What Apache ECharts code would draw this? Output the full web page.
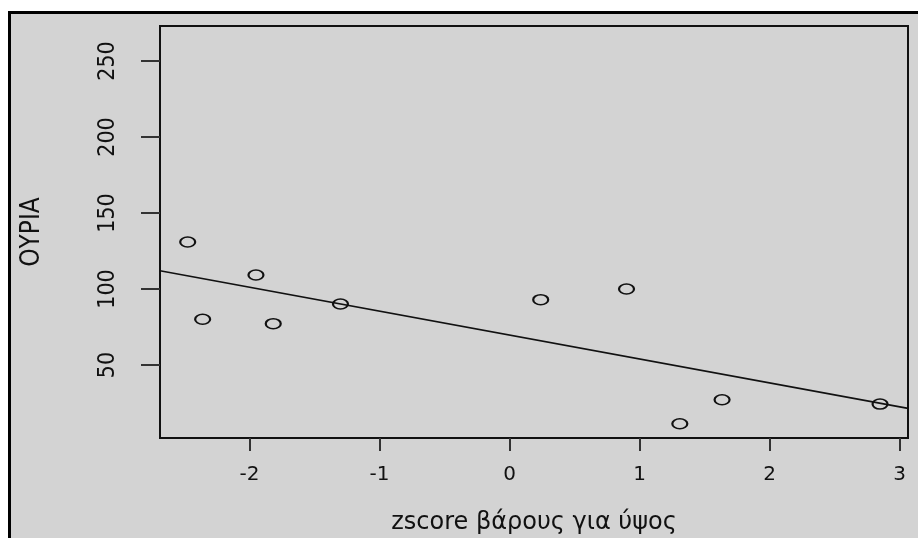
<!DOCTYPE html>
<html>
<head>
<meta charset="utf-8">
<script src="https://cdn.jsdelivr.net/npm/echarts@6/dist/echarts.min.js"></script>
<style>
  html, body { margin: 0; padding: 0; background: #ffffff; }
  #frame { position: absolute; left: 8px; top: 11px; width: 910px; height: 527px;
           background: #d3d3d3; border-left: 3px solid #000; border-top: 3px solid #000; box-sizing: border-box; }
  #chart { position: absolute; left: 0; top: 0; width: 918px; height: 538px; }
</style>
</head>
<body>
<div id="frame"></div>
<div id="chart"></div>
<script>
// Data
const zscoreX = [-2.475, -2.36, -1.95, -1.817, -1.30, 0.24, 0.90, 1.31, 1.635, 2.85];
const ouriaY  = [130.9, 80.1, 109.2, 77.2, 90.1, 93.0, 100.0, 11.4, 27.2, 24.3];
// Fitted line endpoints (read at the plot edges)
const fitX = [-2.688, 3.065];
const fitY = [112.0, 21.5];
// Tick labels
const xTicks = [-2, -1, 0, 1, 2, 3];
const yTicks = [50, 100, 150, 200, 250];
const xTitle = 'zscore βάρους για ύψος';
const yTitle = 'ΟΥΡΙΑ';

const points = zscoreX.map((x, i) => [x, ouriaY[i]]);
const fitLine = fitX.map((x, i) => [x, fitY[i]]);

const narrow = "'DejaVu Sans Condensed', 'Liberation Sans', sans-serif";

const chart = echarts.init(document.getElementById('chart'), null, { renderer: 'canvas' });
chart.setOption({
  backgroundColor: 'transparent',
  animation: false,
  grid: {
    left: 160, top: 26, right: 10, bottom: 100,
    outerBoundsMode: 'none', containLabel: false,
    show: true, backgroundColor: 'transparent', borderColor: '#111', borderWidth: 2
  },
  xAxis: {
    type: 'value', min: -2.688, max: 3.065,
    axisLine: { show: false, onZero: false },
    splitLine: { show: false },
    axisTick: { show: true, length: 13, customValues: xTicks, lineStyle: { color: '#333', width: 2 } },
    axisLabel: { customValues: xTicks, margin: 27, fontFamily: 'DejaVu Sans', fontSize: 20, color: '#111',
                 formatter: v => String(v) },
    name: xTitle, nameLocation: 'middle', nameGap: 73,
    nameTextStyle: { fontFamily: 'DejaVu Sans', fontSize: 24, color: '#111' }
  },
  yAxis: {
    type: 'value', min: 2, max: 273,
    axisLine: { show: false, onZero: false },
    splitLine: { show: false },
    axisTick: { show: true, length: 19, customValues: yTicks, lineStyle: { color: '#333', width: 2 } },
    axisLabel: { customValues: yTicks, rotate: 90, margin: 40, fontFamily: narrow, fontSize: 23, color: '#111' },
    name: yTitle, nameLocation: 'middle', nameGap: 115, nameRotate: 90,
    nameTextStyle: { fontFamily: narrow, fontSize: 26, color: '#111' }
  },
  series: [
    {
      type: 'line', data: fitLine, showSymbol: false, symbol: 'none',
      lineStyle: { color: '#111', width: 1.6 }, silent: true
    },
    {
      type: 'scatter', data: points, symbol: 'circle', symbolSize: [15, 10],
      itemStyle: { color: 'transparent', borderColor: '#111', borderWidth: 1.8, opacity: 1 }
    }
  ]
});
</script>
</body>
</html>
